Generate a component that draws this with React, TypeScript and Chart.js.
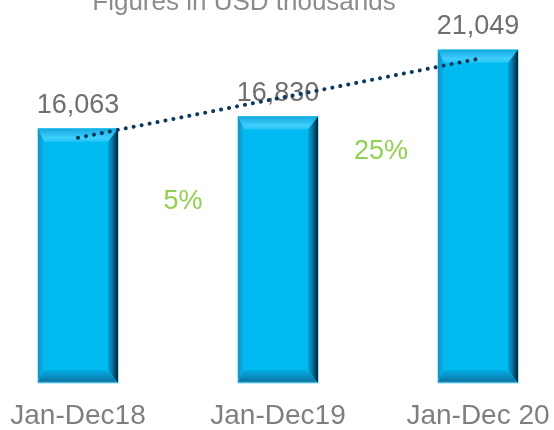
import React, { useEffect, useRef } from "react";
import { Chart, registerables } from "chart.js";

Chart.register(...registerables);

const categories = ["Jan-Dec18", "Jan-Dec19", "Jan-Dec 20"];
const revenue = [16063, 16830, 21049];
const trend = [15490, 17980, 20470];
const growthLabels = ["5%", "25%"];
const growthPos = [0.525, 1.515];
const growthLevel = [11000, 14150];
const titleText = "Figures in USD thousands";
const titlePos = 0.83;

const FONT = "'Liberation Sans', Arial, sans-serif";

const bevelPlugin = {
  id: "bevelBars",
  afterDatasetDraw(chart: any, args: any) {
    if (args.index !== 0) return;
    const ctx = chart.ctx as CanvasRenderingContext2D;
    args.meta.data.forEach((el: any, i: number) => {
      const { x, y, base, width } = el.getProps(["x", "y", "base", "width"], true);
      const L = x - width / 2;
      const R = x + width / 2;
      const T = y;
      const B = base;
      const bt = 13;
      const bl = 6;
      const br = 10;
      const bb = 13;
      ctx.save();
      // top bevel
      let g = ctx.createLinearGradient(0, T, 0, T + bt);
      g.addColorStop(0, "#14a9df");
      g.addColorStop(0.7, "#3fcffc");
      g.addColorStop(1, "#22c4f6");
      ctx.fillStyle = g;
      ctx.beginPath();
      ctx.moveTo(L, T);
      ctx.lineTo(R, T);
      ctx.lineTo(R - br, T + bt);
      ctx.lineTo(L + bl, T + bt);
      ctx.closePath();
      ctx.fill();
      // left bevel
      g = ctx.createLinearGradient(L, 0, L + bl, 0);
      g.addColorStop(0, "#138fc4");
      g.addColorStop(1, "#08b6ee");
      ctx.fillStyle = g;
      ctx.beginPath();
      ctx.moveTo(L, T);
      ctx.lineTo(L + bl, T + bt);
      ctx.lineTo(L + bl, B - bb);
      ctx.lineTo(L, B);
      ctx.closePath();
      ctx.fill();
      // right bevel
      g = ctx.createLinearGradient(R - br, 0, R, 0);
      g.addColorStop(0, "#03a6dc");
      g.addColorStop(0.5, "#0a6c95");
      g.addColorStop(1, "#05202e");
      ctx.fillStyle = g;
      ctx.beginPath();
      ctx.moveTo(R, T);
      ctx.lineTo(R - br, T + bt);
      ctx.lineTo(R - br, B - bb);
      ctx.lineTo(R, B);
      ctx.closePath();
      ctx.fill();
      // bottom bevel
      g = ctx.createLinearGradient(0, B - bb, 0, B);
      g.addColorStop(0, "#05ace4");
      g.addColorStop(0.75, "#0a7fb0");
      g.addColorStop(0.88, "#157aa6");
      g.addColorStop(1, "#6cd4f6");
      ctx.fillStyle = g;
      ctx.beginPath();
      ctx.moveTo(L, B);
      ctx.lineTo(R, B);
      ctx.lineTo(R - br, B - bb);
      ctx.lineTo(L + bl, B - bb);
      ctx.closePath();
      ctx.fill();
      // value label
      ctx.fillStyle = "#6f6f6f";
      ctx.font = `27px ${FONT}`;
      ctx.textAlign = "center";
      ctx.textBaseline = "alphabetic";
      ctx.fillText(revenue[i].toLocaleString("en-US"), x, T - 16);
      ctx.restore();
    });
  },
  afterDraw(chart: any) {
    const ctx = chart.ctx as CanvasRenderingContext2D;
    const xs = chart.scales.x;
    const ys = chart.scales.y;
    const step = xs.getPixelForValue(1) - xs.getPixelForValue(0);
    const x0 = xs.getPixelForValue(0);
    ctx.save();
    ctx.textAlign = "center";
    ctx.textBaseline = "alphabetic";
    ctx.font = `27px ${FONT}`;
    ctx.fillStyle = "#92d050";
    growthLabels.forEach((t, i) => {
      ctx.fillText(t, x0 + growthPos[i] * step, ys.getPixelForValue(growthLevel[i]));
    });
    ctx.fillStyle = "#8c8c8c";
    ctx.font = `26px ${FONT}`;
    ctx.fillText(titleText, x0 + titlePos * step, 10);
    ctx.restore();
  },
};

export default function App() {
  const ref = useRef<HTMLCanvasElement | null>(null);
  useEffect(() => {
    if (!ref.current) return;
    const chart = new Chart(ref.current, {
      type: "bar",
      data: {
        labels: categories,
        datasets: [
          {
            type: "bar",
            data: revenue,
            backgroundColor: "#00bbf2",
            borderWidth: 0,
            barThickness: 80,
            clip: false,
            order: 2,
          } as any,
          {
            type: "line",
            data: trend,
            borderColor: "#0b3a5e",
            borderWidth: 4,
            borderDash: [0.1, 8],
            borderCapStyle: "round",
            pointRadius: 0,
            fill: false,
            tension: 0,
            clip: false,
            order: 1,
          } as any,
        ],
      },
      options: {
        responsive: false,
        animation: false,
        layout: { padding: { top: 3, left: 78, right: 76, bottom: 0 } },
        plugins: {
          legend: { display: false },
          tooltip: { enabled: false },
          title: { display: false },
        },
        scales: {
          x: {
            offset: false,
            grid: { display: false, drawTicks: false },
            border: { display: false },
            ticks: {
              color: "#7f7f7f",
              font: { family: FONT, size: 28, lineHeight: 66 / 28 },
              padding: 0,
              maxRotation: 0,
              minRotation: 0,
              autoSkip: false,
            },
          },
          y: {
            display: false,
            min: 0,
            max: 24000,
          },
        },
      },
      plugins: [bevelPlugin],
    });
    return () => chart.destroy();
  }, []);
  return (
    <div style={{ position: "fixed", left: 0, top: 0, width: 554, height: 430, overflow: "hidden", background: "#fff" }}>
      <canvas ref={ref} width={554} height={449} style={{ display: "block" }} />
    </div>
  );
}
